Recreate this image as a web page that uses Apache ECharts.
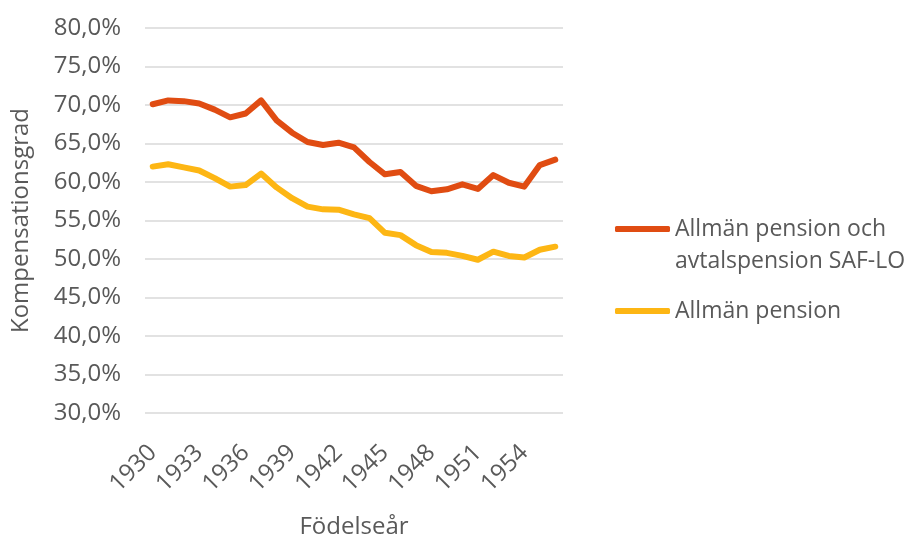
<!DOCTYPE html>
<html>
<head>
<meta charset="utf-8">
<script src="https://cdn.jsdelivr.net/npm/echarts@6/dist/echarts.min.js"></script>
<style>
  html, body { margin: 0; padding: 0; background: #fff; }
  #chart { width: 904px; height: 537px; }
</style>
</head>
<body>
<div id="chart"></div>
<script>
// födelseår 1930-1956
const years = [];
for (let y = 1930; y <= 1956; y++) years.push(String(y));

const allmanOchAvtal = [70.1, 70.6, 70.5, 70.2, 69.4, 68.4, 68.9, 70.6, 68.0, 66.4,
  65.2, 64.8, 65.1, 64.5, 62.6, 61.0, 61.3, 59.5, 58.8, 59.05,
  59.7, 59.1, 60.9, 59.9, 59.4, 62.2, 62.9];

const allman = [62.0, 62.3, 61.9, 61.5, 60.5, 59.4, 59.6, 61.1, 59.3, 57.9,
  56.8, 56.45, 56.4, 55.8, 55.3, 53.4, 53.1, 51.8, 50.9, 50.8,
  50.4, 49.9, 50.95, 50.4, 50.2, 51.2, 51.6];

const name1 = 'Allmän pension och\navtalspension SAF-LO';
const name2 = 'Allmän pension';

const font = '"Open Sans", sans-serif';
const grey = '#595959';

const chart = echarts.init(document.getElementById('chart'));

const option = {
  animation: false,
  textStyle: { fontFamily: font },
  grid: { left: 145, right: 341, top: 28, bottom: 124, outerBoundsMode: 'none' },
  legend: [
    {
      data: [name1],
      orient: 'vertical',
      left: 615,
      top: 181,
      padding: 0,
      icon: 'roundRect',
      itemWidth: 55,
      itemHeight: 6,
      // tom första rad så att linjen hamnar vid första textraden
      formatter: n => '\n' + n,
      textStyle: { fontSize: 23, color: grey, lineHeight: 32, fontFamily: font }
    },
    {
      data: [name2],
      orient: 'vertical',
      left: 615,
      top: 295,
      padding: 0,
      icon: 'roundRect',
      itemWidth: 55,
      itemHeight: 6,
      textStyle: { fontSize: 23, color: grey, lineHeight: 32, fontFamily: font }
    }
  ],
  xAxis: {
    type: 'category',
    data: years,
    boundaryGap: true,
    name: 'Födelseår',
    nameLocation: 'middle',
    nameGap: 102,
    nameTextStyle: { fontSize: 24, color: grey, fontFamily: font },
    axisLine: { show: false },
    axisTick: { show: false },
    axisLabel: {
      interval: 2,
      rotate: 45,
      fontSize: 24,
      color: grey,
      margin: 36,
      fontFamily: font
    }
  },
  yAxis: {
    type: 'value',
    min: 30,
    max: 80,
    interval: 5,
    name: 'Kompensationsgrad',
    nameLocation: 'middle',
    nameGap: 112,
    nameTextStyle: { fontSize: 24, color: grey, fontFamily: font },
    axisLabel: {
      fontSize: 24,
      color: grey,
      margin: 24,
      fontFamily: font,
      formatter: v => v.toFixed(1).replace('.', ',') + '%'
    },
    splitLine: { lineStyle: { color: '#d9d9d9', width: 1.5 } }
  },
  series: [
    {
      name: name1,
      type: 'line',
      data: allmanOchAvtal,
      showSymbol: false,
      itemStyle: { color: '#e04c12' },
      lineStyle: { color: '#e04c12', width: 6, cap: 'round', join: 'round' }
    },
    {
      name: name2,
      type: 'line',
      data: allman,
      showSymbol: false,
      itemStyle: { color: '#fdb614' },
      lineStyle: { color: '#fdb614', width: 6, cap: 'round', join: 'round' }
    }
  ]
};

chart.setOption(option);
</script>
</body>
</html>
